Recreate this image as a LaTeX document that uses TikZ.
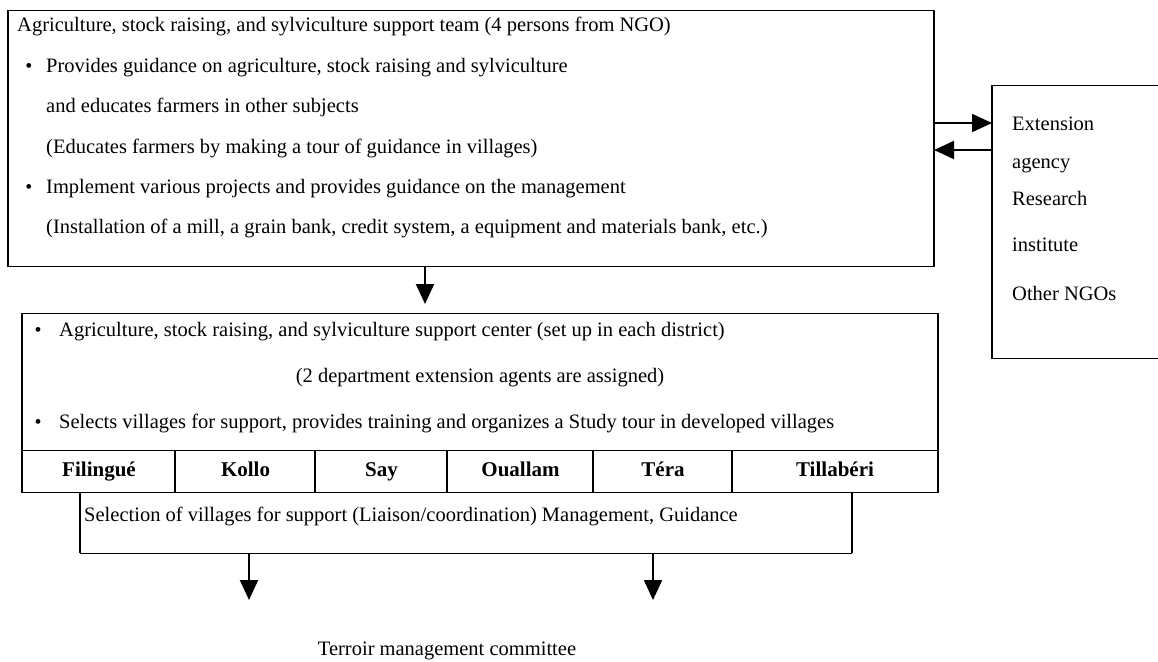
\documentclass[tikz,border=0pt]{standalone}
\usepackage{fontspec}
\setmainfont{Liberation Serif}
\usetikzlibrary{arrows.meta}
\begin{document}
\begin{tikzpicture}[x=1pt,y=-1pt,
  txt/.style={anchor=base west, inner sep=0pt, font=\fontsize{20.5}{24}\selectfont},
  ctxt/.style={anchor=base, inner sep=0pt, font=\fontsize{20.5}{24}\selectfont},
  bul/.style={anchor=base, inner sep=0pt, font=\fontsize{20}{24}\selectfont},
  boxh/.style={draw, line width=1pt, inner sep=0pt, anchor=north west},
  vert/.style={line width=2pt},
  arr/.style={line width=2pt, -{Triangle[length=20pt,width=18pt]}},
  dist/.style={draw, line width=1pt, inner sep=0pt, anchor=north west, minimum height=42pt,
    text height=14.5pt, text depth=5pt, font=\bfseries\fontsize{21}{24}\selectfont},
]
\useasboundingbox (0,0) rectangle (1158,661);

% top box
\node[boxh, minimum width=925pt, minimum height=256pt] (top) at (8,10) {};
\node[txt] (t0) at (17,32) {Agriculture, stock raising, and sylviculture support team (4 persons from NGO)};
\node[bul] (b1) at (29,72) {\textbullet};
\node[txt] (t1) at (46,72) {Provides guidance on agriculture, stock raising and sylviculture};
\node[txt] (t2) at (46,112) {and educates farmers in other subjects};
\node[txt] (t3) at (46,153) {(Educates farmers by making a tour of guidance in villages)};
\node[bul] (b2) at (29,193) {\textbullet};
\node[txt] (t4) at (46,193) {Implement various projects and provides guidance on the management};
\node[txt] (t5) at (46,233) {(Installation of a mill, a grain bank, credit system, a equipment and materials bank, etc.)};
\draw[vert] (top.north west) -- (top.south west);
\draw[vert] (top.north east) -- (top.south east);

% right box
\node[boxh, minimum width=200pt, minimum height=273pt] (ext) at (992,85) {};
\draw[vert] (ext.north west) -- (ext.south west);
\node[txt] (e1) at (1012,130) {Extension};
\node[txt] (e2) at (1012,168) {agency};
\node[txt] (e3) at (1012,205) {Research};
\node[txt] (e4) at (1012,251) {institute};
\node[txt] (e5) at (1012,300) {Other NGOs};

% middle box
\node[boxh, minimum width=915pt, minimum height=179pt] (mid) at (22,313) {};
\node[bul] (b3) at (38,336) {\textbullet};
\node[txt] (m1) at (59,336) {Agriculture, stock raising, and sylviculture support center (set up in each district)};
\node[ctxt] (m2) at (480,382) {(2 department extension agents are assigned)};
\node[bul] (b4) at (38,428) {\textbullet};
\node[txt] (m3) at (59,428) {Selects villages for support, provides training and organizes a Study tour in developed villages};

% districts
\node[dist, minimum width=153pt] (c1) at (22,450) {Filingué};
\node[dist, minimum width=140pt] (c2) at (175,450) {Kollo};
\node[dist, minimum width=132pt] (c3) at (315,450) {Say};
\node[dist, minimum width=146pt] (c4) at (447,450) {Ouallam};
\node[dist, minimum width=139pt] (c5) at (593,450) {Téra};
\node[dist, minimum width=205pt] (c6) at (732,450) {Tillabéri};
\draw[vert] (mid.north west) -- (mid.south west);
\draw[vert] (mid.north east) -- (mid.south east);
\foreach \c in {c2,c3,c4,c5,c6} \draw[vert] (\c.north west) -- (\c.south west);

% bracket
\coordinate (bl) at (80,553);
\coordinate (br) at (852,553);
\draw[line width=1pt] (bl) -- (br);
\draw[vert] (c1.south -| bl) -- (bl);
\draw[vert] (c6.south -| br) -- (br);
\node[txt] (sel) at (84,521) {Selection of villages for support (Liaison/coordination) Management, Guidance};

% arrows
\coordinate (ax) at (425,0);
\draw[arr, shorten >=9pt] (top.south -| ax) -- (mid.north -| ax);
\coordinate (r1) at (0,123);
\coordinate (r2) at (0,150);
\draw[arr] (top.east |- r1) -- (ext.west |- r1);
\draw[arr] (ext.west |- r2) -- (top.east |- r2);
\coordinate (d1) at (249,553);
\coordinate (d2) at (653,553);
\coordinate (f1) at (249,600);
\coordinate (f2) at (653,600);
\draw[arr] (d1) -- (f1);
\draw[arr] (d2) -- (f2);
\node[ctxt] (terr) at (447,655) {Terroir management committee};
\end{tikzpicture}
\end{document}
